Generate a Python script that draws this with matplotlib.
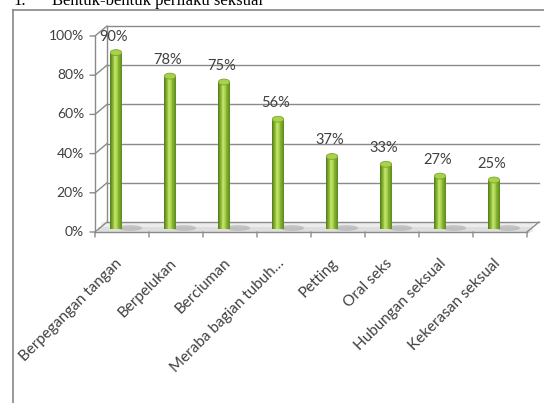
import numpy as np
import matplotlib
matplotlib.use("Agg")
import matplotlib.pyplot as plt
from matplotlib.transforms import ScaledTranslation
from matplotlib.patches import Ellipse, Polygon
from matplotlib.colors import LinearSegmentedColormap

categories = ["Berpegangan tangan", "Berpelukan", "Berciuman", "Meraba bagian tubuh\u2026",
              "Petting", "Oral seks", "Hubungan seksual", "Kekerasan seksual"]
values = [90, 78, 75, 56, 37, 33, 27, 25]
yticks = [0, 20, 40, 60, 80, 100]

DPI = 100
W, H = 544, 403
fig = plt.figure(figsize=(W / DPI, H / DPI), dpi=DPI)

# front box of the fake 3d plot, in pixels
x0, x1 = 95, 527
y0, y1 = 232, 36
ax = fig.add_axes([x0 / W, (H - y0) / H, (x1 - x0) / W, (y0 - y1) / H])
n = len(categories)
ax.set_xlim(-0.5, n - 0.5)
ax.set_ylim(0, 100)
ax.axis("off")

def shift(dx, dy):
    return ax.transData + ScaledTranslation(dx / DPI, dy / DPI, fig.dpi_scale_trans)

def seg(xy, dxy, **kw):
    ax.annotate("", xy=xy, xytext=dxy, textcoords="offset pixels",
                arrowprops=dict(arrowstyle="-", shrinkA=0, shrinkB=0, **kw))

grid = "#8a8a8a"
txt = "#404040"
DX, DY = 12, 10
back = shift(DX, DY)
fx = [-0.5, n - 0.5]

# floor slab
ax.fill_between(fx, [-5, -5], [0, 0], color="#ececec", lw=0, transform=shift(6, 10), clip_on=False)
ax.fill_between(fx, [-3, -3], [0, 0], color="#dedede", lw=0, transform=shift(3, 5), clip_on=False)

# back wall grid + side wall
for v in yticks:
    ax.plot(fx, [v, v], color=grid, lw=1.0, transform=back, clip_on=False)
    seg((-0.5, v), (DX, DY), color=grid, lw=1.0)
ax.plot([-0.5, -0.5], [0, 100], color=grid, lw=1.0, transform=back, clip_on=False)
seg((n - 0.5, 0), (DX, DY), color=grid, lw=1.0)

# front axes
ax.plot([-0.5, -0.5], [0, 100], color=grid, lw=1.0, clip_on=False)
ax.plot(fx, [0, 0], color=grid, lw=1.0, clip_on=False)
for v in yticks:
    seg((-0.5, v), (-5, 0), color=grid, lw=1.0)
    ax.annotate(f"{v}%", xy=(-0.5, v), xytext=(-11, 0), textcoords="offset pixels",
                ha="right", va="center", fontsize=10, color=txt, family="Lato")
for t in np.arange(n + 1) - 0.5:
    seg((t, 0), (0, -5), color=grid, lw=1.0)

# bar shadows on the floor
xs = np.arange(n)
for i in xs:
    ax.add_patch(Ellipse((i, 0), 0.45, 3.0, angle=0, color="#9a9a9a", alpha=0.45, lw=0,
                         transform=shift(8, 4), zorder=1))

# cylinders
bw = 0.21
bar_t = shift(-6, 3)
cmap = LinearSegmentedColormap.from_list(
    "cyl", [(0, "#4e7a18"), (0.3, "#a6d045"), (0.45, "#c2e26c"), (0.7, "#8fbd33"), (1, "#5b8a1e")])
slices = 14
for k in range(slices):
    pos = (k + 0.5) / slices
    ax.bar(xs + (pos - 0.5) * bw, values, width=bw / slices * 1.05, bottom=0,
           color=cmap(pos), lw=0, transform=bar_t, clip_on=False, zorder=2)

labels = []
for i, v in enumerate(values):
    ax.add_patch(Ellipse((i, v), bw, 3.0, facecolor="#a9d24c", edgecolor="#7ea52c", lw=0.6,
                         transform=bar_t, zorder=3))
    ax.annotate(f"{v}%", xy=(i, v), xytext=(-8, 19), textcoords="offset pixels",
                ha="center", va="center", fontsize=10.5, color=txt, family="Lato", zorder=4)
    labels.append(ax.annotate(categories[i], xy=(i, 0), xytext=(0, -20), textcoords="offset pixels",
                              ha="right", va="top", rotation=45, rotation_mode="anchor",
                              fontsize=11, color=txt, family="Lato"))

# place rotated labels so the top-right of each sits just under its slot
fig.canvas.draw()
r = fig.canvas.get_renderer()
for i, t in enumerate(labels):
    bb = t.get_window_extent(r)
    mid = ax.transData.transform((i, 0))
    want_right = mid[0] + 3
    want_top = H - 256
    ox, oy = t.xyann
    t.xyann = (ox + want_right - bb.x1, oy + want_top - bb.y1)

# chart frame and title
fig.add_artist(plt.Line2D([13 / W, 13 / W], [0, 1 - 10 / H], color="#868686", lw=1.2))
fig.add_artist(plt.Line2D([13 / W, 1], [1 - 10 / H, 1 - 10 / H], color="#868686", lw=1.2))
fig.text(13 / W, 1 - 5 / H, "1.", family="Liberation Serif", fontsize=12, va="baseline")
fig.text(52 / W, 1 - 5 / H, "Bentuk-bentuk perilaku seksual", family="Liberation Serif",
         fontsize=12, va="baseline")

fig.savefig("out.png", dpi=DPI)
